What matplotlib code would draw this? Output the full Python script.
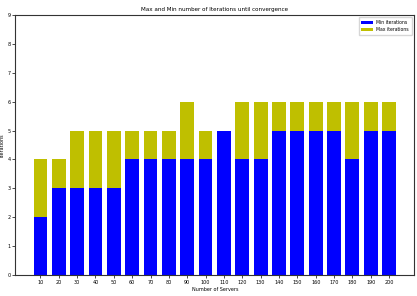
import matplotlib
matplotlib.use('Agg')
import matplotlib.pyplot as plt
import numpy as np

servers = [10, 20, 30, 40, 50, 60, 70, 80, 90, 100, 110, 120, 130, 140, 150, 160, 170, 180, 190, 200]
min_iters = [2, 3, 3, 3, 3, 4, 4, 4, 4, 4, 5, 4, 4, 5, 5, 5, 5, 4, 5, 5]
max_iters = [4, 4, 5, 5, 5, 5, 5, 5, 6, 5, 5, 6, 6, 6, 6, 6, 6, 6, 6, 6]

fig = plt.figure(figsize=(4.17, 2.96), dpi=100)
ax = fig.add_axes([0.037, 0.071, 0.956, 0.878])

x = np.arange(len(servers))
# max behind, min in front
b_max = ax.bar(x, max_iters, width=0.75, color='y', label='Max iterations')
b_min = ax.bar(x, min_iters, width=0.75, color='b', label='Min iterations')

ax.set_xticks(x)
ax.set_xticklabels([str(s) for s in servers], fontsize=3.5)
ax.set_ylim(0, 9)
ax.set_yticks(range(10))
ax.tick_params(axis='y', labelsize=3.5)
ax.tick_params(length=2, width=0.5, pad=1.5)
for s in ax.spines.values():
    s.set_linewidth(0.8)
    s.set_color('#333333')

ax.set_title("Max and Min number of Iterations until convergence", fontsize=4.1, pad=3)
ax.set_xlabel("Number of Servers", fontsize=3.5, labelpad=1.5)
ax.set_ylabel("Iterations", fontsize=3.5, labelpad=2)
ax.legend(handles=[b_min, b_max], loc='upper right', fontsize=3.3,
          frameon=True, handlelength=2.5, borderpad=0.6, labelspacing=0.5)

fig.savefig('out.png', dpi=100)
